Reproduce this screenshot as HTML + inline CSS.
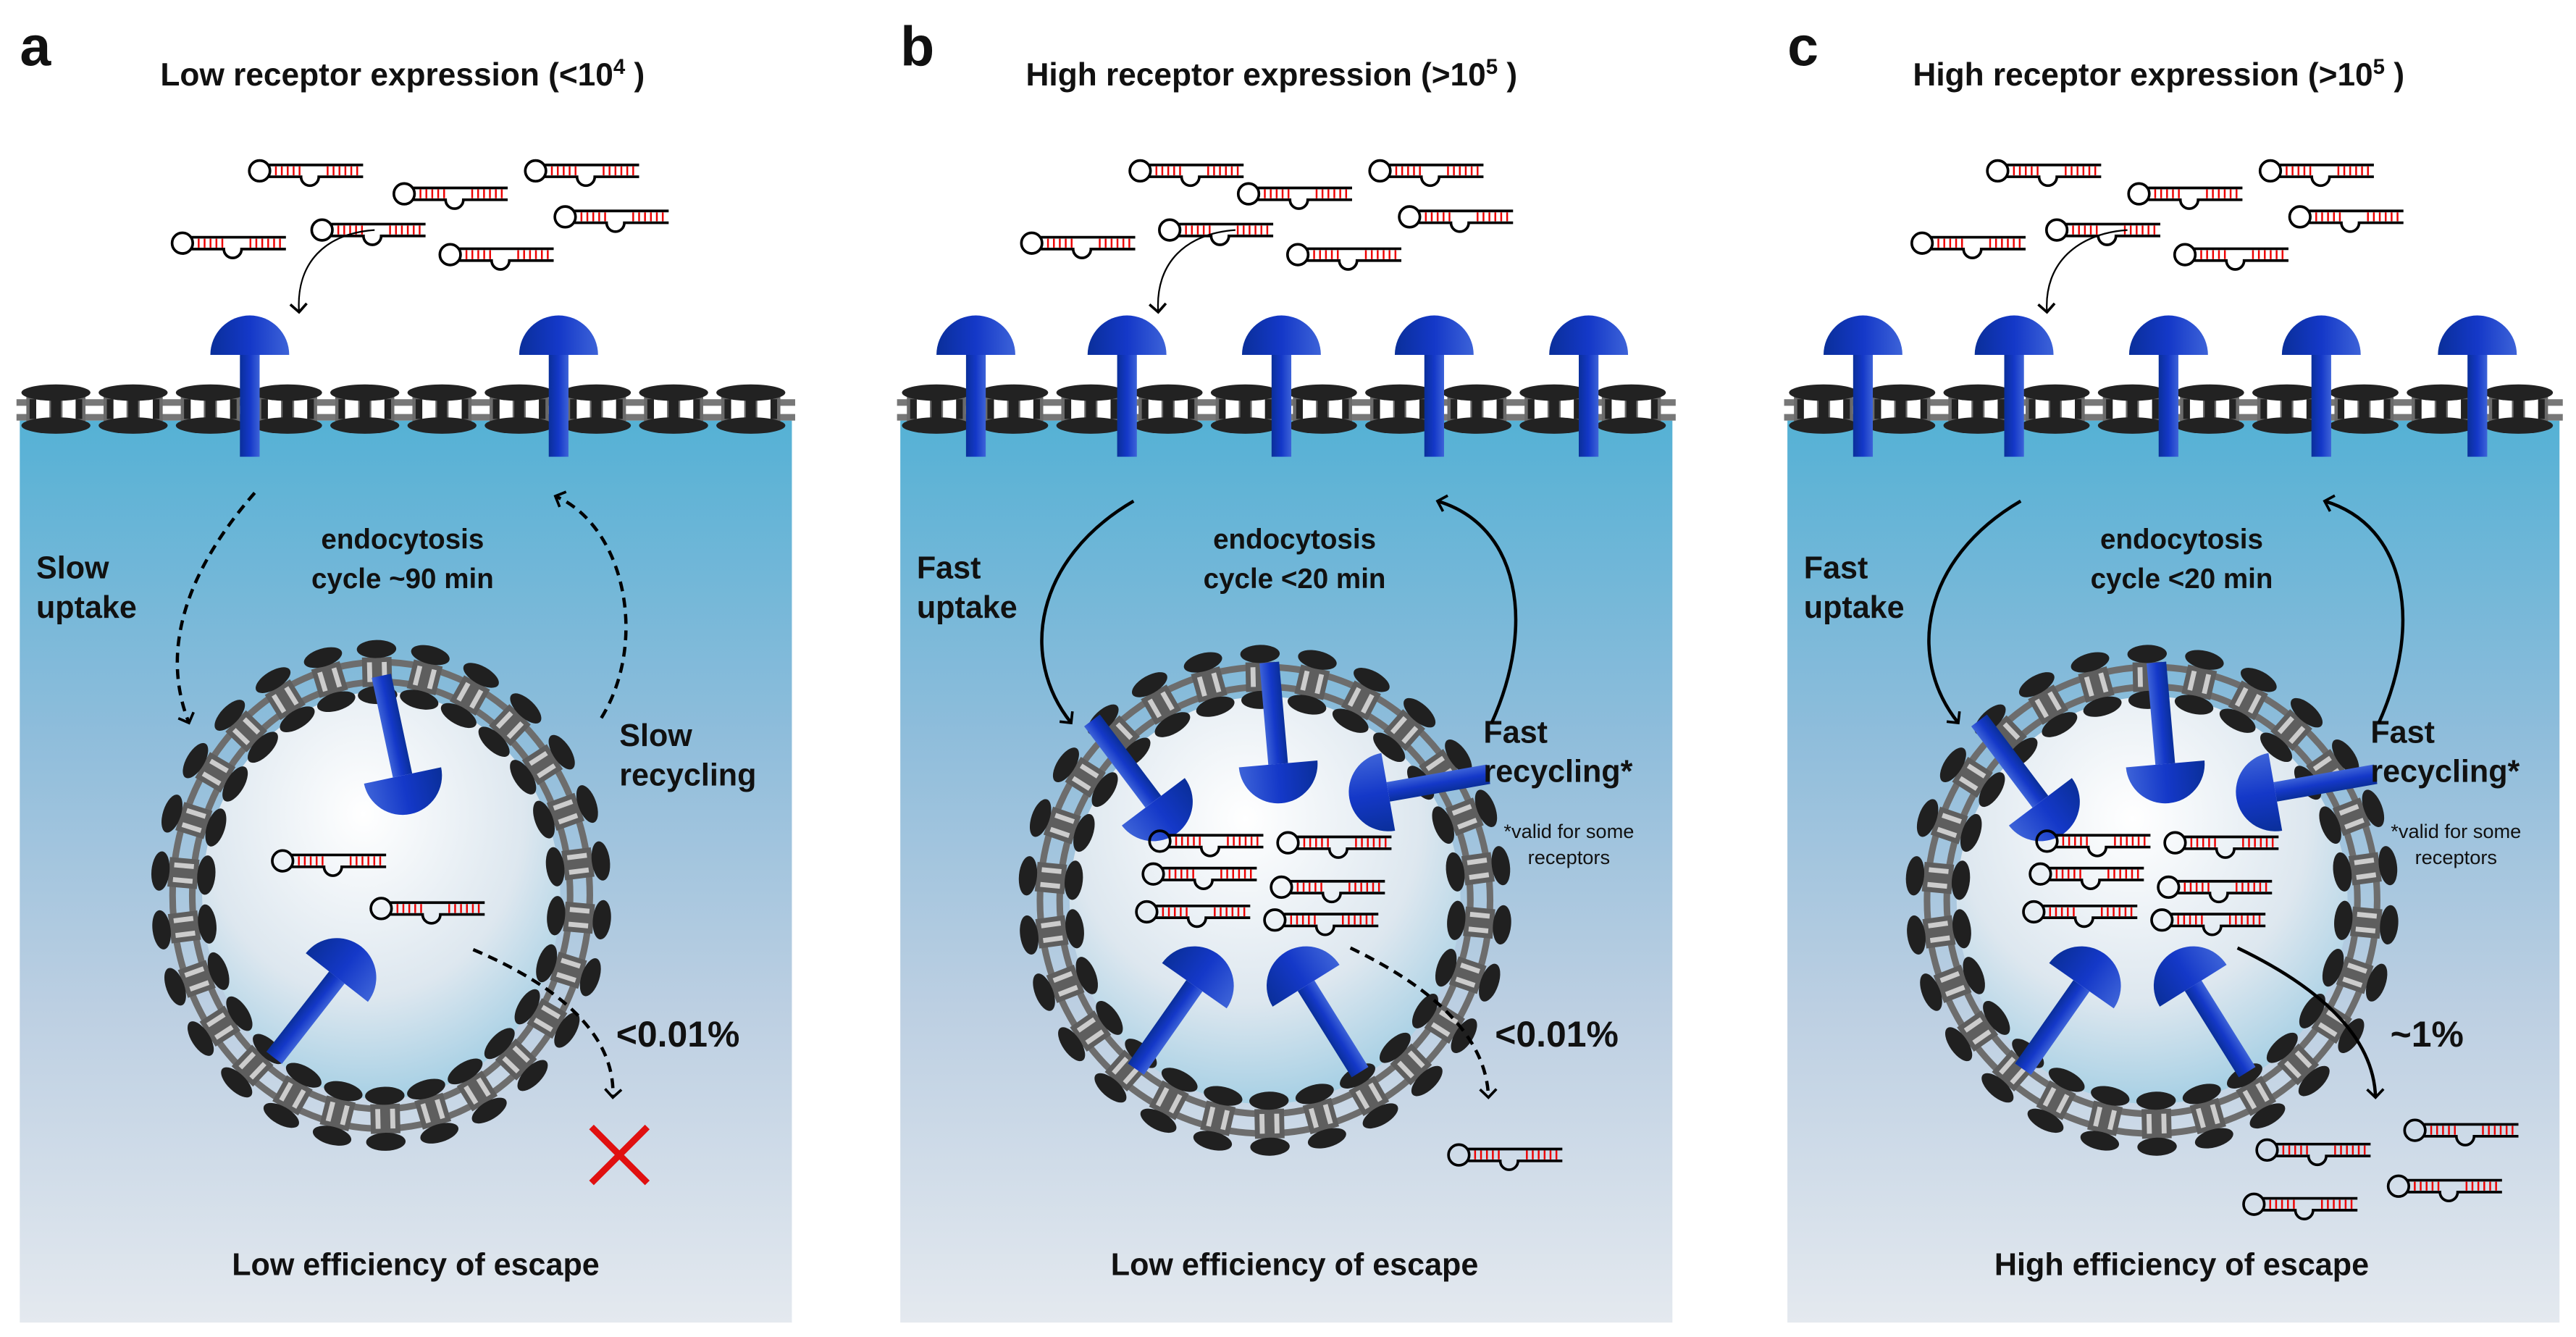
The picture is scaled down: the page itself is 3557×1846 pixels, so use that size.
<!DOCTYPE html>
<html><head><meta charset="utf-8"><style>
html,body{margin:0;padding:0;background:#fff;}
svg{display:block;}
text{font-family:"Liberation Sans",Arial,sans-serif;}
</style></head><body>
<svg id="s" width="3557" height="1846" viewBox="0 0 1568 813.8" xmlns="http://www.w3.org/2000/svg">
<defs>
<linearGradient id="bg" x1="0" y1="0" x2="0" y2="1">
<stop offset="0" stop-color="#55b1d5"/><stop offset="0.35" stop-color="#8fbddb"/><stop offset="0.65" stop-color="#bccfe2"/><stop offset="1" stop-color="#e4e9ef"/>
</linearGradient>
<radialGradient id="ves" cx="0.45" cy="0.3" r="0.75">
<stop offset="0" stop-color="#ffffff"/><stop offset="0.6" stop-color="#dde7ef"/><stop offset="1" stop-color="#9ccbe2"/>
</radialGradient>
<linearGradient id="blu" x1="0" y1="0" x2="1" y2="0">
<stop offset="0" stop-color="#0a2f9a"/><stop offset="0.5" stop-color="#1438c8"/><stop offset="1" stop-color="#3d63d8"/>
</linearGradient>
<marker id="ah" markerWidth="12" markerHeight="12" refX="6" refY="6" orient="auto" markerUnits="userSpaceOnUse">
<path d="M1,1 L6,6 L1,11" fill="none" stroke="#000" stroke-width="1.6"/>
</marker>
<g id="hp" transform="scale(0.9)">
<path d="M6,-4 L70,-4 M6,4 L28,4 A6,6 0 0 0 40,4 L70,4" fill="none" stroke="#000" stroke-width="1.8"/>
<circle cx="0" cy="0" r="7" fill="none" stroke="#000" stroke-width="1.8"/>
<path d="M11,-3V3M15,-3V3M19,-3V3M23,-3V3M27,-3V3M46,-3V3M50,-3V3M54,-3V3M58,-3V3M62,-3V3M66,-3V3" stroke="#e00" stroke-width="1.2"/>
</g>
<g id="rc">
<rect x="-6" y="0" width="12" height="62" fill="url(#blu)"/>
<path d="M-24,0 A24,24 0 0 1 24,0 Z" fill="url(#blu)"/>
</g>
</defs>
<g id="root"></g>
</svg>
<script>
var NS="http://www.w3.org/2000/svg",root=document.getElementById("root");
function el(t,a,p){var e=document.createElementNS(NS,t);for(var k in a)e.setAttribute(k,a[k]);(p||root).appendChild(e);return e;}
function tx(x,y,s,str,o){o=o||{};var e=el("text",{x:x,y:y,"font-size":s,"font-weight":o.w||"bold","text-anchor":o.a||"start",fill:o.f||"#111"});e.innerHTML=str;return e;}
function hp(x,y){el("use",{href:"#hp",x:x,y:y});}
function rec(x,y,ang){el("use",{href:"#rc",transform:"translate("+x+","+y+") rotate("+ang+")"});}
var panels=[12,548,1088];
panels.forEach(function(px){
  el("rect",{x:px,y:256,width:470,height:549,fill:"url(#bg)"});
  el("rect",{x:px-2,y:243,width:474,height:4,fill:"#777"});
  el("rect",{x:px-2,y:252,width:474,height:4,fill:"#777"});
  for(var i=0;i<10;i++){var cx=px+22+i*47;
    el("rect",{x:cx-18,y:241,width:36,height:16,fill:"#6a6a6a"});
    el("rect",{x:cx-12,y:243,width:8,height:12,fill:"#fff"});
    el("rect",{x:cx+4,y:243,width:8,height:12,fill:"#fff"});
    el("rect",{x:cx-16,y:243,width:4,height:12,fill:"#222"});
    el("rect",{x:cx-3,y:243,width:6,height:12,fill:"#222"});
    el("rect",{x:cx+12,y:243,width:4,height:12,fill:"#222"});
    el("ellipse",{cx:cx,cy:239,rx:21,ry:5,fill:"#222"});
    el("ellipse",{cx:cx,cy:259,rx:21,ry:5,fill:"#222"});
  }
});
function vesicle(cx,cy,rx,ry){
  el("ellipse",{cx:cx,cy:cy,rx:rx-16,ry:ry-16,fill:"url(#ves)"});
  el("ellipse",{cx:cx,cy:cy,rx:rx+2,ry:ry+2,fill:"none",stroke:"#6d6d6d","stroke-width":4});
  el("ellipse",{cx:cx,cy:cy,rx:rx-10,ry:ry-10,fill:"none",stroke:"#6d6d6d","stroke-width":4});
  var N=26;
  for(var i=0;i<N;i++){var t=i/N*2*Math.PI+0.1;var c=Math.cos(t),s=Math.sin(t);
    var ang=Math.atan2(s*rx,c*ry)*180/Math.PI;
    var g=el("g",{transform:"translate("+(cx+c*(rx-4))+","+(cy+s*(ry-4))+") rotate("+ang+")"});
    el("rect",{x:-9,y:-9,width:18,height:18,fill:"#5e5e5e"},g);
    el("rect",{x:-6,y:-6,width:12,height:3,fill:"#ccc"},g);
    el("rect",{x:-6,y:3,width:12,height:3,fill:"#ccc"},g);
    el("ellipse",{cx:-14,cy:0,rx:5.5,ry:12,fill:"#202020"},g);
    el("ellipse",{cx:14,cy:0,rx:5.5,ry:12,fill:"#202020"},g);
  }
}
tx(12,40,34,"a");
tx(245,52,19.5,'Low receptor expression (&lt;10<tspan font-size="13" dy="-7">4</tspan><tspan dy="7"> )</tspan>',{a:"middle"});
[[158,104],[246,118],[326,104],[111,148],[196,140],[274,155],[344,132]].forEach(function(p){hp(p[0],p[1]);});
[[694,104],[760,118],[840,104],[628,148],[712,140],[790,155],[858,132]].forEach(function(p){hp(p[0],p[1]);});
[[1216,104],[1302,118],[1382,104],[1170,148],[1252,140],[1330,155],[1400,132]].forEach(function(p){hp(p[0],p[1]);});
[[228,140,182,190],[752,140,705,190],[1295,140,1246,190]].forEach(function(a){
  el("path",{d:"M"+a[0]+","+a[1]+" C"+(a[0]-30)+","+(a[1]+2)+" "+(a[2]-2)+","+(a[3]-30)+" "+a[2]+","+a[3],fill:"none",stroke:"#000","stroke-width":1,"marker-end":"url(#ah)"});
});
rec(152,216,0);rec(340,216,0);
[594,686,780,873,967].forEach(function(x){rec(x,216,0);});
[1134,1226,1320,1413,1508].forEach(function(x){rec(x,216,0);});

vesicle(232,545,125,140);
rec(245,472,168);rec(205,595,38);
hp(172,524);hp(232,553);
tx(22,352,19,"Slow");tx(22,376,19,"uptake");
tx(245,334,17,"endocytosis",{a:"middle"});tx(245,358,17,"cycle ~90 min",{a:"middle"});
tx(377,454,19,"Slow");tx(377,478,19,"recycling");
tx(375,637,22,"&lt;0.01%");
el("path",{d:"M155,300 C120,340 95,390 115,440",fill:"none",stroke:"#000","stroke-width":2,"stroke-dasharray":"6,4","marker-end":"url(#ah)"});
el("path",{d:"M366,437 C395,390 380,320 338,302",fill:"none",stroke:"#000","stroke-width":2,"stroke-dasharray":"6,4","marker-end":"url(#ah)"});
el("path",{d:"M288,578 C340,600 375,630 373,668",fill:"none",stroke:"#000","stroke-width":2,"stroke-dasharray":"6,4","marker-end":"url(#ah)"});
el("path",{d:"M360,686 L394,720 M394,686 L360,720",stroke:"#e01010","stroke-width":4});
tx(253,776,19,"Low efficiency of escape",{a:"middle"});

function bc(dx,c){
  tx(dx+548,40,34,c?"c":"b");
  tx(dx+774,52,19.5,'High receptor expression (&gt;10<tspan font-size="13" dy="-7">5</tspan><tspan dy="7"> )</tspan>',{a:"middle"});
  vesicle(dx+770,548,135,140);
  rec(dx+702,488,143);rec(dx+778,465,175);rec(dx+845,482,-100);
  rec(dx+727,600,35);rec(dx+795,600,-32);
  [[706,512],[784,513],[702,532],[780,540],[698,555],[776,560]].forEach(function(p){hp(dx+p[0],p[1]);});
  tx(dx+558,352,19,"Fast");tx(dx+558,376,19,"uptake");
  tx(dx+788,334,17,"endocytosis",{a:"middle"});tx(dx+788,358,17,"cycle &lt;20 min",{a:"middle"});
  tx(dx+903,452,19,"Fast");tx(dx+903,476,19,"recycling*");
  tx(dx+955,510,12,"*valid for some",{a:"middle",w:"normal"});tx(dx+955,526,12,"receptors",{a:"middle",w:"normal"});
  el("path",{d:"M"+(dx+690)+",305 C"+(dx+630)+",340 "+(dx+620)+",400 "+(dx+652)+",440",fill:"none",stroke:"#000","stroke-width":2,"marker-end":"url(#ah)"});
  el("path",{d:"M"+(dx+908)+",440 C"+(dx+935)+",380 "+(dx+925)+",320 "+(dx+875)+",305",fill:"none",stroke:"#000","stroke-width":2,"marker-end":"url(#ah)"});
  el("path",{d:"M"+(dx+822)+",577 C"+(dx+870)+",600 "+(dx+905)+",630 "+(dx+906)+",668",fill:"none",stroke:"#000","stroke-width":2,"stroke-dasharray":c?"none":"6,4","marker-end":"url(#ah)"});
}
bc(0,false);bc(540,true);
tx(910,637,22,"&lt;0.01%");
hp(888,703);
tx(788,776,19,"Low efficiency of escape",{a:"middle"});
tx(1455,637,22,"~1%");
hp(1380,700);hp(1470,688);hp(1460,722);hp(1372,733);
tx(1328,776,19,"High efficiency of escape",{a:"middle"});
</script>
</body></html>
